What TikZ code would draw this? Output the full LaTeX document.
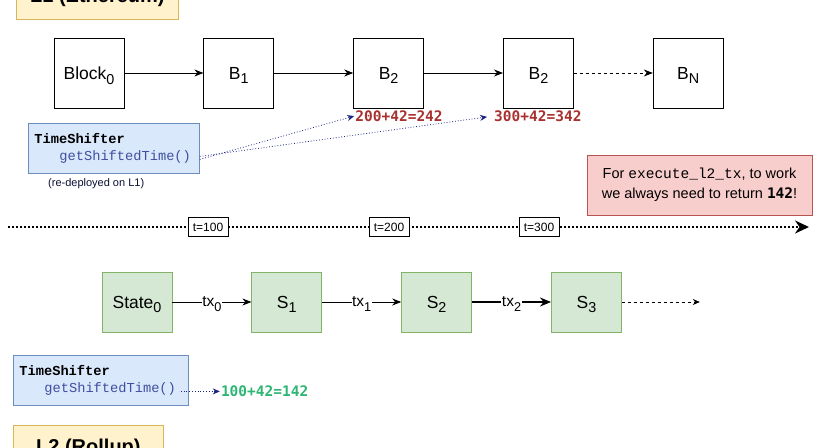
\documentclass[tikz,border=0pt]{standalone}
\usepackage{fontspec}
\setmainfont{Liberation Sans}
\setmonofont{Liberation Mono}
\newfontfamily\valfont{DejaVu Sans Mono}
\usetikzlibrary{%
  arrows.meta,%
  positioning% wg. " of "
}
\definecolor{layerfill}{HTML}{FFF2CC}
\definecolor{layerborder}{HTML}{D6B656}
\definecolor{statefill}{HTML}{D5E8D4}
\definecolor{stateborder}{HTML}{82B366}
\definecolor{shifterfill}{HTML}{DAE8FC}
\definecolor{shifterborder}{HTML}{6C8EBF}
\definecolor{warnfill}{HTML}{F8CECC}
\definecolor{warnborder}{HTML}{B85450}
\definecolor{fncolor}{HTML}{3D4F9F}
\definecolor{navy}{HTML}{1C2380}
\definecolor{lonered}{HTML}{A8302E}
\definecolor{ltwogreen}{HTML}{2DB574}
\newcommand{\lowidx}[1]{\smash{\raisebox{-0.28em}{\scalebox{0.82}{#1}}}}

\begin{document}
\begin{tikzpicture}
[x=1pt, y=-1pt, node distance=79pt, >={Stealth[length=9pt,width=7pt]},
block/.style={rectangle, draw=black, line width=0.8pt, inner sep=0pt, minimum width=70pt, minimum height=70pt, font=\fontsize{17.5}{20}\selectfont},
state/.style={block, draw=stateborder, fill=statefill, minimum height=60pt},
layerbox/.style={rectangle, draw=layerborder, fill=layerfill, line width=0.8pt, minimum height=45pt, font=\fontsize{20}{24}\selectfont\bfseries},
shifter/.style={rectangle, draw=shifterborder, fill=shifterfill, line width=0.8pt, inner xsep=6pt, inner ysep=0pt, minimum height=50pt, align=left, font=\fontsize{13.7}{17}\ttfamily},
fnarrow/.style={->, >={Stealth[length=7pt,width=6pt]}, draw=navy, line width=0.8pt, dotted},
l1val/.style={inner sep=1pt, text=lonered, font=\fontsize{14.5}{16}\valfont\bfseries},
l2val/.style={inner sep=1pt, text=ltwogreen, font=\fontsize{14.5}{16}\valfont\bfseries},
link/.style={->, line width=0.8pt},
txlabel/.style={fill=white, inner sep=0.5pt, font=\fontsize{15.5}{17}\selectfont},
timeline/.style={->, >={Stealth[length=14pt,width=13pt]}, line width=2.6pt, dash pattern=on 2pt off 2pt},
tickbox/.style={rectangle, draw=black, fill=white, line width=0.6pt, minimum width=40pt, minimum height=19pt, inner sep=1pt, font=\fontsize{12}{14}\selectfont},
warnbox/.style={rectangle, draw=warnborder, fill=warnfill, line width=0.8pt, minimum width=225pt, minimum height=60pt, align=center, font=\fontsize{14.5}{20}\selectfont}]

\clip (0,0) rectangle (819,447);

% L1
\node[layerbox, minimum width=162pt, anchor=south west] (l1) at (16,20) {L1 (Ethereum)};
\node[block] (b0) at (89,73) {Block\lowidx{0}};
\node[block, right=of b0] (b1) {B\lowidx{1}};
\node[block, right=of b1] (b2) {B\lowidx{2}};
\node[block, right=of b2] (b3) {B\lowidx{2}};
\node[block, right=of b3] (bn) {B\lowidx{N}};
\draw[link] (b0) -- (b1);
\draw[link] (b1) -- (b2);
\draw[link] (b2) -- (b3);
\draw[link, dashed] (b3) -- (bn);

\node[l1val, below right=1pt and 1pt of b2.south west] (v2) {200+42=242};
\node[l1val, below right=1pt and -10pt of b3.south west] (v3) {300+42=342};

\node[shifter, text width=159pt, anchor=north west] (ts1) at (28,123) {\textbf{TimeShifter}\\\hspace*{25pt}\textcolor{fncolor}{getShiftedTime()}};
\coordinate (ts1fn) at ([yshift=-11pt]ts1.east);
\node[below right=4pt and 19pt of ts1.south west, inner sep=1pt, text=navy!40!black, font=\fontsize{11}{13}\selectfont] (redeploy) {(re-deployed on L1)};
\draw[fnarrow] (ts1fn) -- (v2.west);
\draw[fnarrow, shorten >=6pt] ([yshift=3pt]ts1fn) -- (v3.west);

\node[warnbox] (warn) at (699.5,185) {For \texttt{execute\_l2\_tx}, to work\\we always need to return {\valfont\bfseries 142}!};

% time
\coordinate (tl0) at (8,227);
\coordinate (tl1) at (809,227);
\draw[timeline] (tl0) -- (tl1);
\foreach \x/\t in {208/100, 389/200, 539/300}
	\node[tickbox] (t\t) at (\x,227) {t=\t};

% L2
\node[state] (s0) at (137,302) {State\lowidx{0}};
\node[state, right=of s0] (s1) {S\lowidx{1}};
\node[state, right=of s1] (s2) {S\lowidx{2}};
\node[state, right=of s2] (s3) {S\lowidx{3}};
\coordinate[right=78pt of s3] (s3end);
\draw[link] (s0) -- node[txlabel] {tx\lowidx{0}} (s1);
\draw[link] (s1) -- node[txlabel] {tx\lowidx{1}} (s2);
\draw[link, line width=1.6pt, >={Stealth[length=11pt,width=9pt]}] (s2) -- node[txlabel] {tx\lowidx{2}} (s3);
\draw[link, dashed, >={Stealth[length=7pt,width=6pt]}] (s3) -- (s3end);

\node[shifter, text width=163pt, anchor=north west] (ts2) at (13,355) {\textbf{TimeShifter}\\\hspace*{25pt}\textcolor{fncolor}{getShiftedTime()}};
\coordinate (ts2fn) at ([xshift=-8pt, yshift=-11pt]ts2.east);
\node[l2val, anchor=west] (v1) at ([xshift=39pt]ts2fn) {100+42=142};
\draw[fnarrow] (ts2fn) -- (v1.west);

\node[layerbox, minimum width=150pt, anchor=north west] (l2) at (13,425) {L2 (Rollup)};
\end{tikzpicture}
\end{document}
